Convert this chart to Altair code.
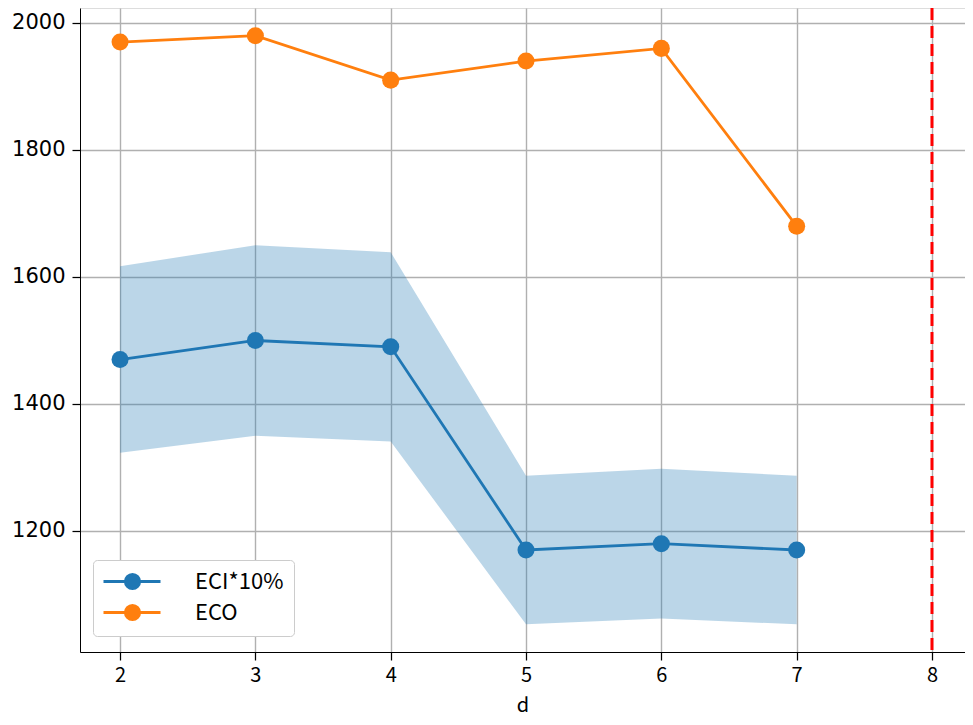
import altair as alt
import pandas as pd

d_vals = [2, 3, 4, 5, 6, 7]
eci_vals = [1470, 1500, 1490, 1170, 1180, 1170]
eci_low = [1323, 1350, 1341, 1053, 1062, 1053]
eci_high = [1617, 1650, 1639, 1287, 1298, 1287]
eco_vals = [1970, 1980, 1910, 1940, 1960, 1680]
series_names = ["ECI*10%", "ECO"]
series_colors = ["#1f77b4", "#ff7f0e"]
vline_x = 8
x_ticks = [2, 3, 4, 5, 6, 7, 8]
y_ticks = [1200, 1400, 1600, 1800, 2000]

band_df = pd.DataFrame({"d": d_vals, "lo": eci_low, "hi": eci_high})
lines_df = pd.DataFrame({
    "d": d_vals + d_vals,
    "value": eci_vals + eco_vals,
    "series": [series_names[0]] * len(d_vals) + [series_names[1]] * len(d_vals),
})

xscale = alt.Scale(domain=[1.704, 8.244], nice=False, zero=False)
yscale = alt.Scale(domain=[1009.4, 2023.6], nice=False, zero=False)

xaxis = alt.Axis(values=x_ticks, title="d", labelFont="Noto Sans CJK JP", labelFontSize=20,
                 titleFont="Noto Sans CJK JP", titleFontSize=20, titleFontWeight="normal",
                 titleColor="black", labelColor="black", tickColor="black", domainColor="black",
                 tickSize=8, tickWidth=1.25, labelPadding=5, titlePadding=10,
                 gridColor="#b0b0b0", gridWidth=1.4, format="d")
yaxis = alt.Axis(values=y_ticks, title=None, labelFont="DejaVu Sans", labelFontSize=21,
                 labelColor="black", tickColor="black", domainColor="black",
                 tickSize=8, tickWidth=1.25, labelPadding=7, format="d",
                 gridColor="#b0b0b0", gridWidth=1.4)

band = alt.Chart(band_df).mark_area(color="#1f77b4", opacity=0.3).encode(
    x=alt.X("d:Q", scale=xscale, axis=xaxis),
    y=alt.Y("lo:Q", scale=yscale, axis=yaxis),
    y2="hi:Q",
)

cx = 1.8
circ = "".join(
    f"M{cx + rr},0A{rr},{rr},0,1,1,{cx - rr},0A{rr},{rr},0,1,1,{cx + rr},0"
    for rr in [0.72, 0.5, 0.28, 0.08]
)
sym_path = "M-1.1,0L4.6,0" + circ

lines = alt.Chart(lines_df).mark_line(strokeWidth=2.8).encode(
    x=alt.X("d:Q", scale=xscale),
    y=alt.Y("value:Q", scale=yscale),
    color=alt.Color("series:N",
                    scale=alt.Scale(domain=series_names, range=series_colors),
                    legend=alt.Legend(title=None, orient="none", legendX=13, legendY=552,
                                      symbolType=sym_path, symbolSize=400,
                                      symbolStrokeWidth=2.8, symbolFillColor="transparent",
                                      labelFont="Noto Sans CJK JP", labelFontSize=22,
                                      labelColor="black", labelOffset=69, rowPadding=4,
                                      padding=10, fillColor="white", strokeColor="#cccccc",
                                      cornerRadius=4)),
)

points = alt.Chart(lines_df).mark_circle(size=290, opacity=1).encode(
    x=alt.X("d:Q", scale=xscale),
    y=alt.Y("value:Q", scale=yscale),
    fill=alt.Fill("series:N", scale=alt.Scale(domain=series_names, range=series_colors), legend=None),
)

vline = alt.Chart(pd.DataFrame({"x": [vline_x]})).mark_rule(
    color="red", strokeWidth=3, strokeDash=[12, 6]
).encode(x=alt.X("x:Q", scale=xscale))

chart = alt.layer(band, lines, points, vline).properties(
    width=885, height=644,
    autosize=alt.AutoSizeParams(type="none"),
    padding={"left": 72, "top": 0, "right": 0, "bottom": 65},
).configure_view(stroke="black", strokeWidth=1.25).configure(background="white")

chart.save("out.html", embed_options={"renderer": "svg", "actions": False})
